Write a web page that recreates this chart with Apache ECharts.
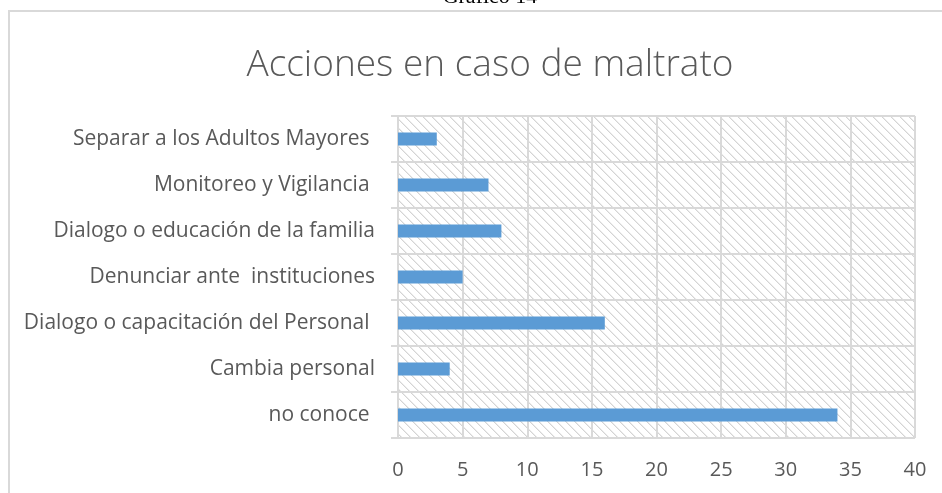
<!DOCTYPE html>
<html>
<head>
<meta charset="utf-8">
<script src="https://cdn.jsdelivr.net/npm/echarts@6/dist/echarts.min.js"></script>
<style>
html,body{margin:0;padding:0;background:#fff;width:942px;height:493px;overflow:hidden;}
#frame{position:absolute;left:8px;top:10px;width:1100px;height:700px;border:2px solid #d9d9d9;box-sizing:border-box;}
#chart{position:absolute;left:0;top:0;width:942px;height:493px;}
</style>
</head>
<body>
<div id="frame"></div>
<div id="chart"></div>
<script>
// Data (bottom-to-top order as drawn by ECharts category axis)
const categories = [
  'no conoce ',
  'Cambia personal',
  'Dialogo o capacitación del Personal ',
  'Denunciar ante  instituciones',
  'Dialogo o educación de la familia',
  'Monitoreo y Vigilancia ',
  'Separar a los Adultos Mayores '
];
const values = [34, 4, 16, 5, 8, 7, 3];
const valueTicks = [0, 5, 10, 15, 20, 25, 30, 35, 40];
const chartTitle = 'Acciones en caso de maltrato';
const captionText = 'Gráfico 14';

// hatched background pattern
function makePattern() {
  const n = 9;
  const c = document.createElement('canvas');
  c.width = n; c.height = n;
  const ctx = c.getContext('2d');
  ctx.fillStyle = '#ffffff';
  ctx.fillRect(0, 0, n, n);
  for (let i = 0; i < n; i++) {
    ctx.fillStyle = '#d4d4d4';
    ctx.fillRect(i, i, 1, 1);
    ctx.fillStyle = '#ececec';
    ctx.fillRect((i + 1) % n, i, 1, 1);
  }
  return c;
}

const chart = echarts.init(document.getElementById('chart'), null, {renderer: 'canvas'});
const option = {
  animation: false,
  backgroundColor: 'transparent',
  title: [
    {
      text: chartTitle,
      left: 485, top: 42,
      textAlign: 'center',
      textStyle: {fontFamily: 'Open Sans', fontWeight: 300, fontSize: 37, color: '#595959'}
    },
    {
      text: captionText,
      left: 485, top: -19,
      textAlign: 'center',
      textStyle: {fontFamily: 'Liberation Serif', fontWeight: 'normal', fontSize: 22, color: '#000'}
    }
  ],
  grid: {
    left: 398, right: 27, top: 116, bottom: 55,
    containLabel: false,
    outerBoundsMode: 'none',
    show: true,
    borderWidth: 0,
    backgroundColor: {image: makePattern(), repeat: 'repeat'}
  },
  xAxis: {
    type: 'value',
    min: valueTicks[0],
    max: valueTicks[valueTicks.length - 1],
    interval: valueTicks[1] - valueTicks[0],
    axisLine: {show: false},
    axisTick: {show: false},
    axisLabel: {
      margin: 22,
      fontFamily: 'Open Sans', fontSize: 20, color: '#595959',
      formatter: v => String(v)
    },
    splitLine: {show: true, lineStyle: {color: '#d9d9d9', width: 2}}
  },
  yAxis: {
    type: 'category',
    data: categories,
    boundaryGap: true,
    axisLine: {show: true, lineStyle: {color: '#d9d9d9', width: 2}},
    axisTick: {show: true, length: 7, lineStyle: {color: '#d9d9d9', width: 2}},
    axisLabel: {margin: 23, fontFamily: 'Open Sans', fontSize: 21, color: '#595959'},
    splitLine: {show: true, lineStyle: {color: '#d9d9d9', width: 2}}
  },
  series: [{
    type: 'bar',
    data: values,
    barWidth: '28%',
    itemStyle: {color: '#5b9bd5'}
  }]
};
chart.setOption(option);
</script>
</body>
</html>
